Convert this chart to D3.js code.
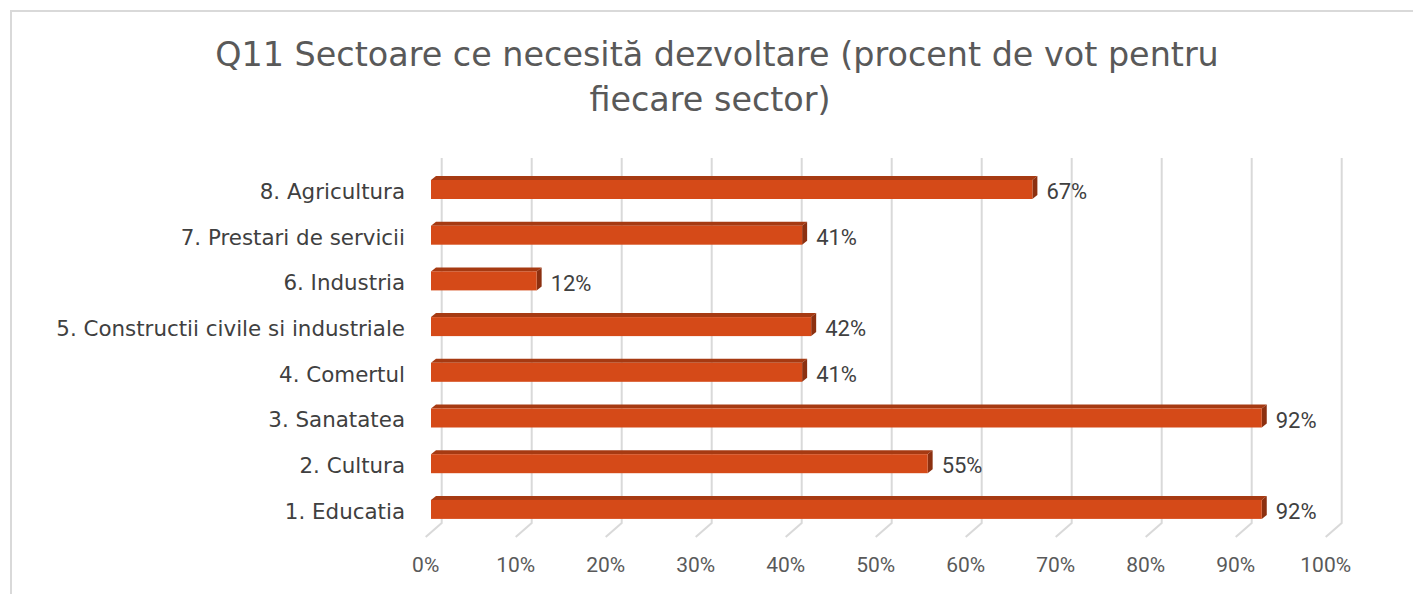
<!DOCTYPE html>
<html>
<head>
<meta charset="utf-8">
<script src="https://cdn.jsdelivr.net/npm/d3@7/dist/d3.min.js"></script>
<style>
  body { margin: 0; background: #fff; }
  svg text { font-family: "DejaVu Sans", sans-serif; }
  svg text.num { font-family: Roboto, "DejaVu Sans", sans-serif; }
</style>
</head>
<body>
<svg id="chart" width="1413" height="594"></svg>
<script>
// data (top to bottom)
var categories = ["8. Agricultura", "7. Prestari de servicii", "6. Industria",
    "5. Constructii civile si industriale", "4. Comertul", "3. Sanatatea",
    "2. Cultura", "1. Educatia"];
var values = [66.6, 41.1, 11.7, 42.1, 41.1, 92.0, 55.0, 92.0];
var labels = ["67%", "41%", "12%", "42%", "41%", "92%", "55%", "92%"];
var ticks = [0, 10, 20, 30, 40, 50, 60, 70, 80, 90, 100];
var titleLines = ["Q11 Sectoare ce necesită dezvoltare (procent de vot pentru", "fiecare sector)"];

var svg = d3.select("#chart");

// chart frame (only top and left edge visible)
svg.append("rect")
    .attr("x", 11).attr("y", 11)
    .attr("width", 1440).attr("height", 640)
    .attr("fill", "none")
    .attr("stroke", "#d9d9d9")
    .attr("stroke-width", 2);

// title
svg.append("text")
    .attr("y", 66)
    .attr("text-anchor", "middle")
    .attr("font-size", 33.4)
    .attr("fill", "#595959")
    .selectAll("tspan")
    .data(titleLines)
    .enter()
    .append("tspan")
    .attr("x", function(d, i) { return i === 0 ? 717 : 710; })
    .attr("dy", function(d, i) { return i === 0 ? 0 : 45; })
    .text(function(d) { return d; });

// back wall scale and front scale (3d look)
var xBack = d3.scaleLinear().domain([0, 100]).range([441.7, 1341.7]);
var xFront = d3.scaleLinear().domain([0, 100]).range([431, 1334]);
var y = d3.scalePoint().domain(categories).range([189.5, 509.4]);

var wallTop = 158, wallBottom = 523, floorDx = -16, floorDy = 14;
var barH = 19, depthX = 5, depthY = 4;

// gridlines with floor part
svg.append("g")
    .selectAll("path")
    .data(ticks)
    .enter()
    .append("path")
    .attr("d", function(d) {
        var x = xBack(d);
        return "M" + x + "," + wallTop + "L" + x + "," + wallBottom +
            "L" + (x + floorDx) + "," + (wallBottom + floorDy);
    })
    .attr("fill", "none")
    .attr("stroke", "#d9d9d9")
    .attr("stroke-width", 2);

// tick labels
svg.append("g")
    .selectAll("text")
    .data(ticks)
    .enter()
    .append("text")
    .attr("class", "num")
    .attr("x", function(d) { return xBack(d) + floorDx; })
    .attr("y", 565)
    .attr("dy", "0.35em")
    .attr("text-anchor", "middle")
    .attr("font-size", 21)
    .attr("fill", "#595959")
    .text(function(d) { return d + "%"; });

// category labels
svg.append("g")
    .selectAll("text")
    .data(categories)
    .enter()
    .append("text")
    .attr("x", 405)
    .attr("y", function(d) { return y(d) + 2; })
    .attr("dy", "0.35em")
    .attr("text-anchor", "end")
    .attr("font-size", 21.4)
    .attr("fill", "#404040")
    .text(function(d) { return d; });

// bars
var bars = svg.append("g")
    .selectAll("g")
    .data(values)
    .enter()
    .append("g");

// top face
bars.append("path")
    .attr("d", function(d, i) {
        var y0 = y(categories[i]) - barH / 2;
        var x0 = xFront(0), x1 = xFront(d);
        return "M" + x0 + "," + y0 + "L" + (x0 + depthX) + "," + (y0 - depthY) +
            "L" + (x1 + depthX) + "," + (y0 - depthY) + "L" + x1 + "," + y0 + "Z";
    })
    .attr("fill", "#a63a12");

// side face
bars.append("path")
    .attr("d", function(d, i) {
        var y0 = y(categories[i]) - barH / 2;
        var x1 = xFront(d);
        return "M" + x1 + "," + y0 + "L" + (x1 + depthX) + "," + (y0 - depthY) +
            "L" + (x1 + depthX) + "," + (y0 + barH - depthY) + "L" + x1 + "," + (y0 + barH) + "Z";
    })
    .attr("fill", "#8c3010");

// front face
bars.append("rect")
    .attr("x", xFront(0))
    .attr("y", function(d, i) { return y(categories[i]) - barH / 2; })
    .attr("width", function(d) { return xFront(d) - xFront(0); })
    .attr("height", barH)
    .attr("fill", "#d54a18");

// data labels
svg.append("g")
    .selectAll("text")
    .data(values)
    .enter()
    .append("text")
    .attr("class", "num")
    .attr("x", function(d) { return xFront(d) + depthX + 9; })
    .attr("y", function(d, i) { return y(categories[i]) + 2; })
    .attr("dy", "0.35em")
    .attr("font-size", 22)
    .attr("fill", "#404040")
    .text(function(d, i) { return labels[i]; });
</script>
</body>
</html>
